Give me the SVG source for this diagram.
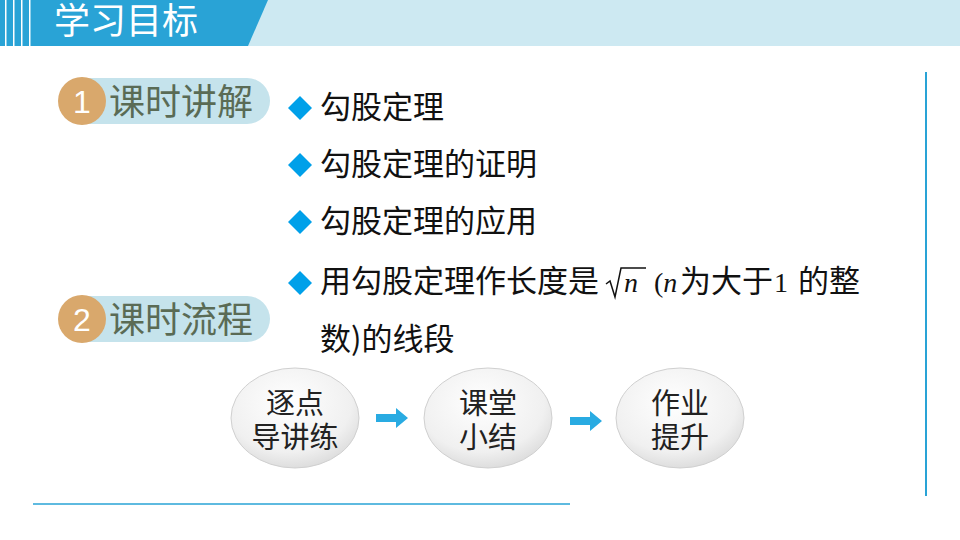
<svg xmlns="http://www.w3.org/2000/svg" width="960" height="540" viewBox="0 0 960 540">
<defs>
<radialGradient id="eg" cx="0.45" cy="0.35" r="0.7"><stop offset="0" stop-color="#ffffff"/><stop offset="0.7" stop-color="#f0f0f0"/><stop offset="1" stop-color="#d8d8d8"/></radialGradient>
<style>
.zh{font-family:"Noto Sans CJK SC","Liberation Sans",sans-serif}
.item{font-size:31px;fill:#111}
.dia{fill:#00a0e9}
.node{fill:url(#eg);stroke:#d0d0d0;stroke-width:1}
.nt{font-size:29px;fill:#222;text-anchor:middle}
.tag{font-size:36px;fill:#5a6b55}
.arr{fill:#29abe2}
</style>
</defs>
<rect x="0" y="0" width="960" height="46" fill="#cde9f2"/>
<path d="M0,0 H268 L248,46 H0 Z" fill="#29a3d6"/>
<g fill="#ffffff"><rect x="5" y="0" width="1.5" height="46"/><rect x="13" y="0" width="1.5" height="46"/><rect x="21" y="0" width="1.5" height="46"/><rect x="29" y="0" width="1.5" height="46"/></g>
<text x="54" y="34" class="zh" font-size="36" fill="#fff">学习目标</text>
<rect x="60" y="78" width="210" height="46" rx="23" fill="#c5e3ec"/>
<circle cx="82" cy="101" r="24" fill="#d9a86c"/>
<text x="82" y="113" font-family="Liberation Sans,sans-serif" font-size="32" fill="#fff" text-anchor="middle">1</text>
<text x="109" y="115" class="zh tag">课时讲解</text>
<rect x="60" y="296" width="210" height="46" rx="23" fill="#c5e3ec"/>
<circle cx="82" cy="319" r="24" fill="#d9a86c"/>
<text x="82" y="331" font-family="Liberation Sans,sans-serif" font-size="32" fill="#fff" text-anchor="middle">2</text>
<text x="109" y="333" class="zh tag">课时流程</text>
<g>
<path class="dia" d="M300,96 L312,108 L300,120 L288,108 Z"/><text x="320" y="118" class="zh item">勾股定理</text>
<path class="dia" d="M300,153 L312,165 L300,177 L288,165 Z"/><text x="320" y="175" class="zh item">勾股定理的证明</text>
<path class="dia" d="M300,210 L312,222 L300,234 L288,222 Z"/><text x="320" y="232" class="zh item">勾股定理的应用</text>
<path class="dia" d="M300,271 L312,283 L300,295 L288,283 Z"/>
<text x="320" y="292" class="zh item">用勾股定理作长度是</text>
<path d="M606,284 L610,281 L615,297 L621,268 H646" fill="none" stroke="#111" stroke-width="1.5"/>
<text x="624" y="292" font-family="Liberation Serif,serif" font-style="italic" font-size="28" fill="#111">n</text>
<text x="654" y="292" font-family="Liberation Serif,serif" font-size="28" fill="#111">(<tspan font-style="italic">n</tspan></text>
<text x="680" y="292" class="zh item">为大于</text>
<text x="774" y="292" font-family="Liberation Serif,serif" font-size="28" fill="#111">1</text>
<text x="798" y="292" class="zh item">的整</text>
<text x="320" y="350" class="zh item">数)的线段</text>
</g>
<g id="connectors">
<path class="arr" d="M376,414 H396 V408 L408,418 L396,428 V422 H376 Z"/>
<path class="arr" d="M570,417 H590 V411 L602,421 L590,431 V425 H570 Z"/>
</g>
<g id="n1"><ellipse class="node" cx="295" cy="418" rx="64" ry="50"/><text x="295" y="414" class="zh nt">逐点</text><text x="295" y="448" class="zh nt">导讲练</text></g>
<g id="n2"><ellipse class="node" cx="488" cy="418" rx="64" ry="50"/><text x="488" y="414" class="zh nt">课堂</text><text x="488" y="448" class="zh nt">小结</text></g>
<g id="n3"><ellipse class="node" cx="680" cy="418" rx="64" ry="50"/><text x="680" y="414" class="zh nt">作业</text><text x="680" y="448" class="zh nt">提升</text></g>
<line x1="33" y1="504" x2="570" y2="504" stroke="#29a3d6" stroke-width="1.5"/>
<line x1="926" y1="72" x2="926" y2="496" stroke="#29a3d6" stroke-width="2"/>
</svg>
